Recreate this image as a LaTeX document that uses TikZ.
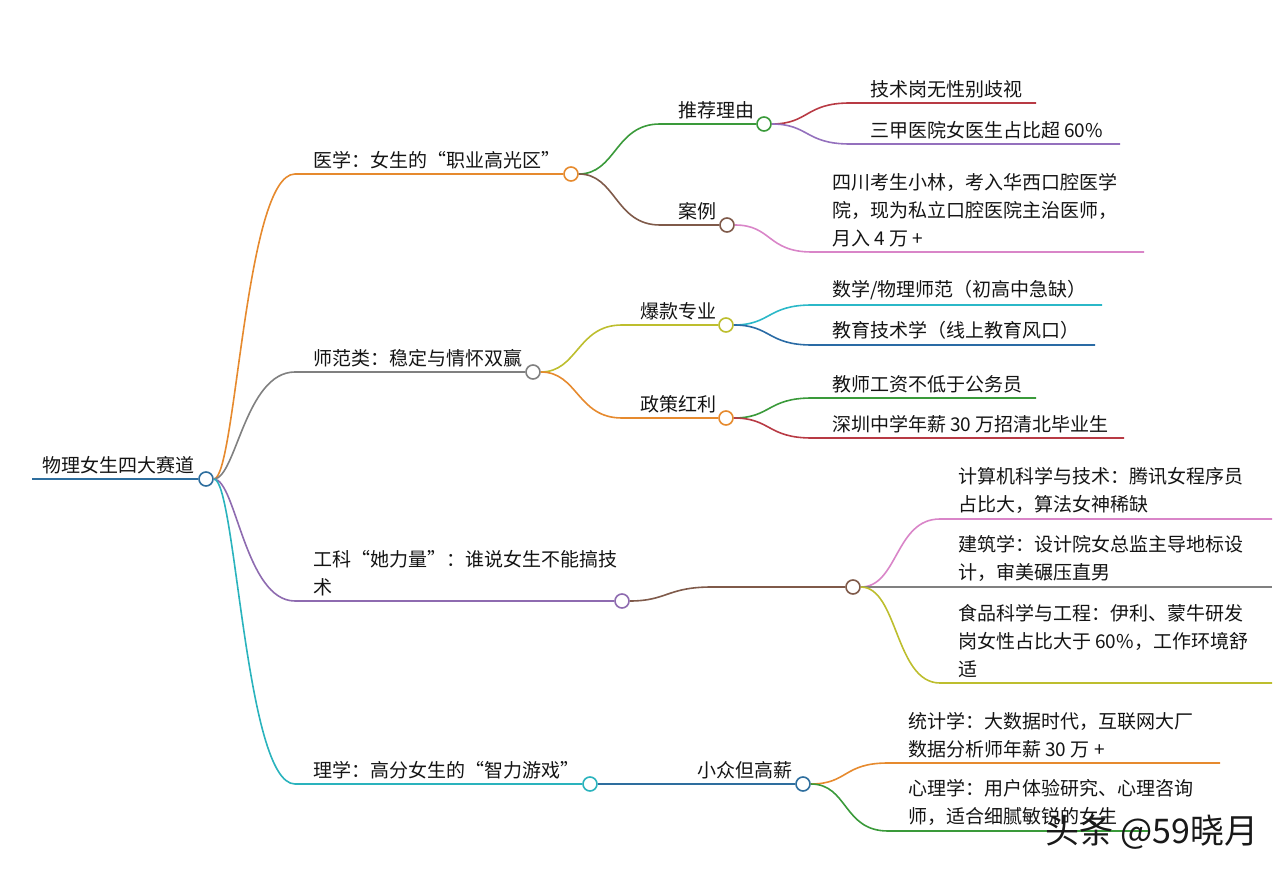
\documentclass[tikz,border=0pt]{standalone}
\usepackage{fontspec}
\setmainfont{Noto Sans CJK SC}
\usetikzlibrary{positioning}

\definecolor{mmblue}{HTML}{2E6E9E}
\definecolor{mmorange}{HTML}{E68A2E}
\definecolor{mmgray}{HTML}{808080}
\definecolor{mmpurple}{HTML}{8E6BB0}
\definecolor{mmteal}{HTML}{2AB3BD}
\definecolor{mmgreen}{HTML}{3A9A3A}
\definecolor{mmbrown}{HTML}{7F5A4A}
\definecolor{mmred}{HTML}{B83A44}
\definecolor{mmviolet}{HTML}{9470BD}
\definecolor{mmpink}{HTML}{D985C8}
\definecolor{mmolive}{HTML}{BDBE2E}
\definecolor{mmcyan}{HTML}{2BB8C8}
\definecolor{mmnavy}{HTML}{2A6BA5}

\begin{document}
\begin{tikzpicture}[x=1pt, y=-1pt,
    link/.style={line width=1.6pt, draw=#1},
    hub/.style={circle, draw=#1, line width=1.6pt, fill=white, minimum size=14pt, inner sep=0pt},
    lbl/.style={anchor=south west, inner sep=0pt, align=left, text=black!92,
        font=\fontsize{19}{28}\selectfont}]
    \useasboundingbox (0,0) rectangle (1280,877);

    % hubs
    \foreach \n/\x/\y/\c in {root/206/479/mmblue, med/571/174/mmorange, edu/533/372/mmgray,
        eng/622/601/mmpurple, sci/590/784/mmteal, why/764/124/mmgreen, case/727/225/mmbrown,
        hot/726/325/mmolive, policy/726/418/mmorange, job/853/587/mmbrown, niche/803/784/mmblue} {
        \node[hub=\c] (\n) at (\x,\y) {};
    }

    % line starts
    \coordinate (root-l) at (32,479);
    \coordinate (med-l) at (295,174);
    \coordinate (edu-l) at (295,372);
    \coordinate (eng-l) at (295,601);
    \coordinate (sci-l) at (295,784);
    \coordinate (why-l) at (660,124);
    \coordinate (case-l) at (660,225);
    \coordinate (hot-l) at (622,325);
    \coordinate (policy-l) at (622,418);
    \coordinate (job-l) at (712,587);

    % root and branches
    \draw[link=mmblue] (root-l) -- (root);
    \draw[link=mmorange] (root) .. controls +(30,0) and +(-50,0) .. (med-l) -- (med);
    \draw[link=mmgray] (root) .. controls +(30,0) and +(-50,0) .. (edu-l) -- (edu);
    \draw[link=mmpurple] (root) .. controls +(30,0) and +(-50,0) .. (eng-l) -- (eng);
    \draw[link=mmteal] (root) .. controls +(30,0) and +(-50,0) .. (sci-l) -- (sci);

    % sub branches
    \draw[link=mmgreen] (med) .. controls +(45,0) and +(-45,0) .. (why-l) -- (why);
    \draw[link=mmbrown] (med) .. controls +(45,0) and +(-45,0) .. (case-l) -- (case);
    \draw[link=mmolive] (edu) .. controls +(45,0) and +(-45,0) .. (hot-l) -- (hot);
    \draw[link=mmorange] (edu) .. controls +(45,0) and +(-45,0) .. (policy-l) -- (policy);
    \draw[link=mmbrown] (eng) .. controls +(45,0) and +(-45,0) .. (job-l) -- (job);
    \draw[link=mmblue] (sci) -- (niche);

    % leaves
    \foreach \from/\y/\xs/\xe/\c in {why/103/850/1036/mmred, why/144/850/1120/mmviolet,
        case/252/812/1144/mmpink, hot/305/812/1102/mmcyan, hot/345/812/1095/mmnavy,
        policy/398/812/1036/mmgreen, policy/438/812/1124/mmred, job/519/940/1272/mmpink,
        job/587/940/1272/mmgray, job/683/940/1272/mmolive, niche/763/888/1220/mmorange,
        niche/831/888/1150/mmgreen} {
        \coordinate (lf\y-l) at (\xs,\y);
        \coordinate (lf\y-r) at (\xe,\y);
        \draw[link=\c] (\from) .. controls +(45,0) and +(-45,0) .. (lf\y-l) -- (lf\y-r);
    }

    % labels
    \node[lbl] (root-t) at (42,474) {物理女生四大赛道};
    \node[lbl] (med-t) at (313,169) {医学：女生的“职业高光区”};
    \node[lbl] (edu-t) at (313,367) {师范类：稳定与情怀双赢};
    \node[lbl] (eng-t) at (313,596) {工科“她力量”：谁说女生不能搞技\\术};
    \node[lbl] (sci-t) at (313,779) {理学：高分女生的“智力游戏”};
    \node[lbl] (why-t) at (678,119) {推荐理由};
    \node[lbl] (case-t) at (678,220) {案例};
    \node[lbl] (hot-t) at (640,320) {爆款专业};
    \node[lbl] (policy-t) at (640,413) {政策红利};
    \node[lbl] (niche-t) at (697,779) {小众但高薪};

    \node[lbl] (lf103-t) at (870,98) {技术岗无性别歧视};
    \node[lbl] (lf144-t) at (870,139) {三甲医院女医生占比超 60\%};
    \node[lbl] (lf252-t) at (832,247) {四川考生小林，考入华西口腔医学\\院，现为私立口腔医院主治医师，\\月入 4 万 +};
    \node[lbl] (lf305-t) at (832,300) {数学/物理师范（初高中急缺）};
    \node[lbl] (lf345-t) at (832,340) {教育技术学（线上教育风口）};
    \node[lbl] (lf398-t) at (832,393) {教师工资不低于公务员};
    \node[lbl] (lf438-t) at (832,433) {深圳中学年薪 30 万招清北毕业生};
    \node[lbl] (lf519-t) at (958,514) {计算机科学与技术：腾讯女程序员\\占比大，算法女神稀缺};
    \node[lbl] (lf587-t) at (958,582) {建筑学：设计院女总监主导地标设\\计，审美碾压直男};
    \node[lbl] (lf683-t) at (958,678) {食品科学与工程：伊利、蒙牛研发\\岗女性占比大于 60\%，工作环境舒\\适};
    \node[lbl] (lf763-t) at (908,758) {统计学：大数据时代，互联网大厂\\数据分析师年薪 30 万 +};
    \node[lbl] (lf831-t) at (908,826) {心理学：用户体验研究、心理咨询\\师，适合细腻敏锐的女生};

    % watermark
    \node[anchor=south west, inner sep=0pt, font=\fontsize{34}{34}\selectfont, text=black!90]
        (mark) at (1045,850) {头条 @59晓月};
\end{tikzpicture}
\end{document}
